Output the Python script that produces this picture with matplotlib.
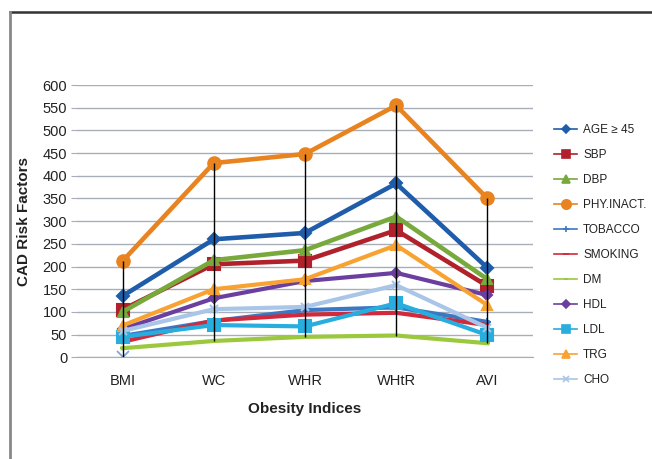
import matplotlib
matplotlib.use("Agg")
import matplotlib.pyplot as plt
import numpy as np
from matplotlib.lines import Line2D

plt.rcParams['font.family'] = ['Liberation Sans', 'DejaVu Sans']

categories = ["BMI", "WC", "WHR", "WHtR", "AVI"]

age_45 = [135, 260, 274, 383, 197]
sbp = [105, 205, 213, 280, 157]
dbp = [100, 214, 236, 310, 172]
phy_inact = [212, 428, 448, 555, 350]
tobacco = [47, 80, 104, 110, 78]
smoking = [34, 81, 94, 98, 71]
dm = [20, 36, 45, 48, 31]
hdl = [62, 130, 168, 186, 137]
ldl = [45, 71, 68, 119, 49]
trg = [70, 150, 172, 247, 115]
cho = [58, 106, 111, 159, 65]
# isolated CHO reading at BMI
cho_bmi_extra = 0

series = [
    ("AGE \u2265 45", age_45, "#1F5DAB", "D", 3.3, 6),
    ("SBP", sbp, "#B0212B", "s", 3.3, 8),
    ("DBP", dbp, "#78A93C", "^", 3.3, 7),
    ("PHY.INACT.", phy_inact, "#E9831F", "o", 3.3, 9),
    ("TOBACCO", tobacco, "#3A78C3", "+", 3.0, 6),
    ("SMOKING", smoking, "#D02A3C", "_", 3.0, 5),
    ("DM", dm, "#9BC83C", "_", 3.0, 4),
    ("HDL", hdl, "#6B3FA0", "D", 3.0, 5),
    ("LDL", ldl, "#27ADDE", "s", 3.0, 8),
    ("TRG", trg, "#F8A232", "^", 3.0, 7),
    ("CHO", cho, "#A9C5E8", "x", 3.0, 6),
]

fig = plt.figure(figsize=(6.52, 4.59), dpi=100)
ax = fig.add_axes([0.118, 0.2216, 0.6995, 0.5932])

x = np.arange(len(categories))
handles = []
for name, vals, color, mk, lw, ms in series:
    ax.plot(x, vals, color=color, lw=lw, marker=mk, ms=ms,
            mec=color, mfc=color, mew=1.5, solid_joinstyle='miter', zorder=3)
    handles.append(Line2D([], [], color=color, lw=1.2, marker=mk,
                          ms=ms * 0.75, mec=color, mfc=color, mew=1.2))

ax.plot([x[0]], [cho_bmi_extra], ls='none', marker='x', ms=9, mew=1.3,
        color="#7FA6D8", zorder=3)

# high-low lines across all series
all_vals = np.array([s[1] for s in series], dtype=float)
lows = all_vals.min(axis=0)
lows[0] = min(lows[0], cho_bmi_extra)
highs = all_vals.max(axis=0)
ax.vlines(x, lows, highs, color="black", lw=1.0, zorder=4)

ax.set_xlim(-0.5, len(categories) - 0.5)
ax.set_ylim(0, 600)
ax.set_yticks(np.arange(0, 601, 50))
ax.set_xticks(x)
ax.set_xticklabels(categories)
ax.grid(axis='y', color="#A7AEB7", lw=1.0)
ax.set_axisbelow(True)
for sp in ['left', 'right', 'top']:
    ax.spines[sp].set_visible(False)
ax.spines['bottom'].set_color("#A7AEB7")
ax.tick_params(axis='y', length=4, color="#A7AEB7", labelsize=10.5, pad=3,
               labelcolor="#222222")
ax.tick_params(axis='x', length=0, labelsize=10.5, pad=12, labelcolor="#222222")

ax.set_xlabel("Obesity Indices", fontsize=11, fontweight='bold', labelpad=10,
              color="#222222")
ax.set_ylabel("CAD Risk Factors", fontsize=11, fontweight='bold', labelpad=8,
              color="#222222")

leg = fig.legend(handles, [s[0] for s in series], loc='upper left',
                 bbox_to_anchor=(0.833, 0.752), frameon=False, fontsize=8.5,
                 handlelength=2.0, handletextpad=0.5, labelspacing=1.1)
for t in leg.get_texts():
    t.set_color("#222222")

# outer frame: top rule and left rule
fig.add_artist(Line2D([0.0153, 1.0], [0.974, 0.974], color="#333333", lw=1.8,
                      transform=fig.transFigure))
fig.add_artist(Line2D([0.0153, 0.0153], [0.0, 0.974], color="#888888", lw=2.0,
                      transform=fig.transFigure))

fig.savefig("out.png", dpi=100)
